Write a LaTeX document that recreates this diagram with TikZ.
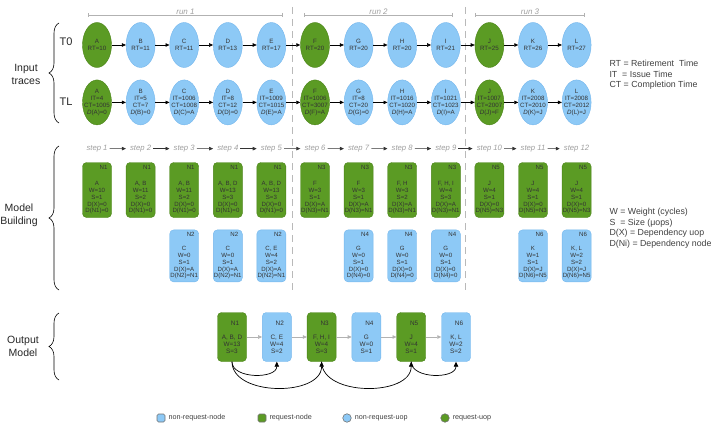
\documentclass[tikz,border=0pt]{standalone}
\usepackage{fontspec}
\setmainfont{Liberation Sans}
\usepackage{xcolor}
\usetikzlibrary{arrows.meta,positioning,shapes.geometric,decorations.pathreplacing}

\definecolor{reqgreen}{HTML}{5B9B24}
\definecolor{reqgreenline}{HTML}{4A8318}
\definecolor{uopblue}{HTML}{8DC9F6}
\definecolor{uopblueline}{HTML}{74B6EC}

\begin{document}
\begin{tikzpicture}[
x=1pt, y=1pt,
node distance=12pt and 14.2pt,
uop/.style={ellipse, draw=uopblueline, fill=uopblue, minimum width=29pt, minimum height=45pt, inner xsep=-3pt, inner ysep=1pt, align=center, text=black!80, font=\fontsize{6.2}{7}\selectfont},
requop/.style={uop, draw=reqgreenline, fill=reqgreen},
blockb/.style={draw=uopblueline, fill=uopblue, rounded corners=4pt, align=center, minimum width=29pt, minimum height=52pt, inner xsep=0.2pt, inner ysep=1pt, text=black!80, font=\fontsize{6.1}{6.8}\selectfont},
blockg/.style={blockb, draw=reqgreenline, fill=reqgreen, minimum height=55pt},
outb/.style={blockb, minimum height=49pt, font=\fontsize{6.4}{7}\selectfont},
outg/.style={outb, draw=reqgreenline, fill=reqgreen},
line/.style={-{Triangle[length=4pt, width=3.5pt]}, line width=0.6pt},
flow/.style={-{Triangle[length=4pt, width=3.5pt]}, line width=0.6pt, gray!60},
dep/.style={-{Triangle[length=5pt, width=4.5pt]}, line width=0.7pt},
steplbl/.style={text=gray!75, font=\fontsize{7.7}{9}\selectfont\itshape, inner sep=1pt},
steparrow/.style={-{Triangle[length=4pt, width=3.5pt]}, line width=0.6pt, black!80, shorten <=1pt, shorten >=3pt},
runlbl/.style={text=gray!75, font=\fontsize{8}{9}\selectfont\itshape, inner sep=0.5pt, above},
runline/.style={{Bar[width=4pt]}-{Bar[width=4pt]}, gray!60, line width=0.6pt},
sepline/.style={gray!55, line width=0.8pt, dash pattern=on 7pt off 5pt},
brace/.style={decorate, decoration={brace, amplitude=10pt}, line width=0.6pt},
side/.style={align=center, font=\fontsize{10.5}{13}\selectfont, text=black!85},
trace/.style={font=\fontsize{11}{13}\selectfont, text=black!85},
key/.style={align=left, anchor=west, font=\fontsize{8.8}{10.5}\selectfont, text=black!75},
lgsq/.style={draw=black!55, line width=0.6pt, rounded corners=1.5pt, minimum size=8pt, inner sep=0pt},
lgdot/.style={circle, draw=black!55, line width=0.6pt, minimum size=8.5pt, inner sep=0pt},
lgtext/.style={font=\fontsize{7.2}{8}\selectfont, text=black!75, inner sep=1pt}
]
\useasboundingbox (0,0) rectangle (712,-425);

% --- Side labels and braces ---
\draw[brace] (59,-123) -- (59,-23);
\node[side] (inlbl) at (26,-74) {Input\\traces};
\node[trace] (t0lbl) at (66,-42) {T0};
\node[trace] (tllbl) at (66,-102) {TL};

\draw[brace] (59,-290) -- (59,-146);
\node[side] (mblbl) at (19,-215) {Model\\Building};

\draw[brace] (59,-380) -- (59,-313);
\node[side] (omlbl) at (23,-346) {Output\\Model};

% --- Runs ---
\coordinate (run1s) at (88,-15);
\coordinate (run1e) at (283,-15);
\coordinate (run2s) at (304,-15);
\coordinate (run2e) at (453,-15);
\coordinate (run3s) at (475,-15);
\coordinate (run3e) at (585,-15);
\draw[runline] (run1s) -- node[runlbl] (run1) {run 1} (run1e);
\draw[runline] (run2s) -- node[runlbl] (run2) {run 2} (run2e);
\draw[runline] (run3s) -- node[runlbl] (run3) {run 3} (run3e);

\coordinate (sep1a) at (292,-7);
\coordinate (sep1b) at (292,-292);
\coordinate (sep2a) at (465,-7);
\coordinate (sep2b) at (465,-292);
\draw[sepline] (sep1a) -- (sep1b);
\draw[sepline] (sep2a) -- (sep2b);

% --- Input trace T0 ---
\node[requop] (A0) at (97,-45) {A\\RT=10};
\node[uop, right=of A0] (B0) {B\\RT=11};
\node[uop, right=of B0] (C0) {C\\RT=11};
\node[uop, right=of C0] (D0) {D\\RT=13};
\node[uop, right=of D0] (E0) {E\\RT=17};
\node[requop, right=of E0] (F0) {F\\RT=20};
\node[uop, right=of F0] (G0) {G\\RT=20};
\node[uop, right=of G0] (H0) {H\\RT=20};
\node[uop, right=of H0] (I0) {I\\RT=21};
\node[requop, right=of I0] (J0) {J\\RT=25};
\node[uop, right=of J0] (K0) {K\\RT=26};
\node[uop, right=of K0] (L0) {L\\RT=27};

% --- Input trace TL ---
\node[requop, below=of A0] (AL) {A\\IT=4\\CT=1005\\\textit{D}(A)=0};
\node[uop, right=of AL] (BL) {B\\IT=5\\CT=7\\\textit{D}(B)=0};
\node[uop, right=of BL] (CL) {C\\IT=1006\\CT=1008\\\textit{D}(C)=A};
\node[uop, right=of CL] (DL) {D\\IT=8\\CT=12\\\textit{D}(D)=0};
\node[uop, right=of DL] (EL) {E\\IT=1009\\CT=1015\\\textit{D}(E)=A};
\node[requop, right=of EL] (FL) {F\\IT=1006\\CT=3007\\\textit{D}(F)=A};
\node[uop, right=of FL] (GL) {G\\IT=8\\CT=20\\\textit{D}(G)=0};
\node[uop, right=of GL] (HL) {H\\IT=1016\\CT=1020\\\textit{D}(H)=A};
\node[uop, right=of HL] (IL) {I\\IT=1021\\CT=1023\\\textit{D}(I)=A};
\node[requop, right=of IL] (JL) {J\\IT=1007\\CT=2007\\\textit{D}(J)=F};
\node[uop, right=of JL] (KL) {K\\IT=2008\\CT=2010\\\textit{D}(K)=J};
\node[uop, right=of KL] (LL) {L\\IT=2008\\CT=2012\\\textit{D}(L)=J};

% --- Model building: request nodes ---
\node[blockg] (m1) at (97,-190) {\hspace*{13pt}N1\\[9pt]A\\W=10\\S=1\\D(X)=0\\D(N1)=0};
\node[blockg, right=of m1] (m2) {\hspace*{13pt}N1\\[9pt]A, B\\W=11\\S=2\\D(X)=0\\D(N1)=0};
\node[blockg, right=of m2] (m3) {\hspace*{13pt}N1\\[9pt]A, B\\W=11\\S=2\\D(X)=0\\D(N1)=0};
\node[blockg, right=of m3] (m4) {\hspace*{13pt}N1\\[9pt]A, B, D\\W=13\\S=3\\D(X)=0\\D(N1)=0};
\node[blockg, right=of m4] (m5) {\hspace*{13pt}N1\\[9pt]A, B, D\\W=13\\S=3\\D(X)=0\\D(N1)=0};
\node[blockg, right=of m5] (m6) {\hspace*{13pt}N3\\[9pt]F\\W=3\\S=1\\D(X)=A\\D(N3)=N1};
\node[blockg, right=of m6] (m7) {\hspace*{13pt}N3\\[9pt]F\\W=3\\S=1\\D(X)=A\\D(N3)=N1};
\node[blockg, right=of m7] (m8) {\hspace*{13pt}N3\\[9pt]F, H\\W=3\\S=2\\D(X)=A\\D(N3)=N1};
\node[blockg, right=of m8] (m9) {\hspace*{13pt}N3\\[9pt]F, H, I\\W=4\\S=3\\D(X)=A\\D(N3)=N1};
\node[blockg, right=of m9] (m10) {\hspace*{13pt}N5\\[9pt]J\\W=4\\S=1\\D(X)=0\\D(N5)=N3};
\node[blockg, right=of m10] (m11) {\hspace*{13pt}N5\\[9pt]J\\W=4\\S=1\\D(X)=0\\D(N5)=N3};
\node[blockg, right=of m11] (m12) {\hspace*{13pt}N5\\[9pt]J\\W=4\\S=1\\D(X)=0\\D(N5)=N3};

% --- Model building: non-request nodes ---
\node[blockb, below=of m3] (m3b) {\hspace*{13pt}N2\\[7pt]C\\W=0\\S=1\\D(X)=A\\D(N2)=N1};
\node[blockb, below=of m4] (m4b) {\hspace*{13pt}N2\\[7pt]C\\W=0\\S=1\\D(X)=A\\D(N2)=N1};
\node[blockb, below=of m5] (m5b) {\hspace*{13pt}N2\\[7pt]C, E\\W=4\\S=2\\D(X)=A\\D(N2)=N1};
\node[blockb, below=of m7] (m7b) {\hspace*{13pt}N4\\[7pt]G\\W=0\\S=1\\D(X)=0\\D(N4)=0};
\node[blockb, below=of m8] (m8b) {\hspace*{13pt}N4\\[7pt]G\\W=0\\S=1\\D(X)=0\\D(N4)=0};
\node[blockb, below=of m9] (m9b) {\hspace*{13pt}N4\\[7pt]G\\W=0\\S=1\\D(X)=0\\D(N4)=0};
\node[blockb, below=of m11] (m11b) {\hspace*{13pt}N6\\[7pt]K\\W=1\\S=1\\D(X)=J\\D(N6)=N5};
\node[blockb, below=of m12] (m12b) {\hspace*{13pt}N6\\[7pt]K, L\\W=2\\S=2\\D(X)=J\\D(N6)=N5};

% --- Steps ---
\node[steplbl, above=9pt of m1] (s1) {step 1};
\node[steplbl, above=9pt of m2] (s2) {step 2};
\node[steplbl, above=9pt of m3] (s3) {step 3};
\node[steplbl, above=9pt of m4] (s4) {step 4};
\node[steplbl, above=9pt of m5] (s5) {step 5};
\node[steplbl, above=9pt of m6] (s6) {step 6};
\node[steplbl, above=9pt of m7] (s7) {step 7};
\node[steplbl, above=9pt of m8] (s8) {step 8};
\node[steplbl, above=9pt of m9] (s9) {step 9};
\node[steplbl, above=9pt of m10] (s10) {step 10};
\node[steplbl, above=9pt of m11] (s11) {step 11};
\node[steplbl, above=9pt of m12] (s12) {step 12};

% --- Output model ---
\node[outg] (o1) at (232,-337) {\hspace*{6pt}N1\\[7pt]A, B, D\\W=13\\S=3};
\node[outb, right=15.4pt of o1] (o2) {\hspace*{6pt}N2\\[7pt]C, E\\W=4\\S=2};
\node[outg, right=15.4pt of o2] (o3) {\hspace*{6pt}N3\\[7pt]F, H, I\\W=4\\S=3};
\node[outb, right=15.4pt of o3] (o4) {\hspace*{6pt}N4\\[7pt]G\\W=0\\S=1};
\node[outg, right=15.4pt of o4] (o5) {\hspace*{6pt}N5\\[7pt]J\\W=4\\S=1};
\node[outb, right=15.4pt of o5] (o6) {\hspace*{6pt}N6\\[7pt]K, L\\W=2\\S=2};

% --- Keys ---
\node[key] (rtkey) at (606,-75) {RT = Retirement\ \ Time\\IT\ \ = Issue Time\\CT = Completion Time};
\node[key] (wkey) at (606,-228) {W = Weight (cycles)\\S\ \ = Size (μops)\\D(X) = Dependency uop\\D(Ni) = Dependency node};

% --- Legend ---
\node[lgsq, fill=uopblue] (lg1) at (161,-418) {};
\node[lgtext, right=2pt of lg1] (lgt1) {non-request-node};
\node[lgsq, fill=reqgreen] (lg2) at (262,-418) {};
\node[lgtext, right=2pt of lg2] (lgt2) {request-node};
\node[lgdot, fill=uopblue] (lg3) at (347,-418) {};
\node[lgtext, right=2pt of lg3] (lgt3) {non-request-uop};
\node[lgdot, fill=reqgreen] (lg4) at (445,-418) {};
\node[lgtext, right=2pt of lg4] (lgt4) {request-uop};

% --- Connections ---
\draw[line] (A0) -- (B0);
\draw[line] (B0) -- (C0);
\draw[line] (C0) -- (D0);
\draw[line] (D0) -- (E0);
\draw[line] (E0) -- (F0);
\draw[line] (F0) -- (G0);
\draw[line] (G0) -- (H0);
\draw[line] (H0) -- (I0);
\draw[line] (I0) -- (J0);
\draw[line] (J0) -- (K0);
\draw[line] (K0) -- (L0);

\draw[line] (AL) -- (BL);
\draw[line] (BL) -- (CL);
\draw[line] (CL) -- (DL);
\draw[line] (DL) -- (EL);
\draw[line] (EL) -- (FL);
\draw[line] (FL) -- (GL);
\draw[line] (GL) -- (HL);
\draw[line] (HL) -- (IL);
\draw[line] (IL) -- (JL);
\draw[line] (JL) -- (KL);
\draw[line] (KL) -- (LL);

\draw[steparrow] (s1) -- (s2);
\draw[steparrow] (s2) -- (s3);
\draw[steparrow] (s3) -- (s4);
\draw[steparrow] (s4) -- (s5);
\draw[steparrow] (s5) -- (s6);
\draw[steparrow] (s6) -- (s7);
\draw[steparrow] (s7) -- (s8);
\draw[steparrow] (s8) -- (s9);
\draw[steparrow] (s9) -- (s10);
\draw[steparrow] (s10) -- (s11);
\draw[steparrow] (s11) -- (s12);

\draw[flow] (o1) -- (o2);
\draw[flow] (o2) -- (o3);
\draw[flow] (o3) -- (o4);
\draw[flow] (o4) -- (o5);
\draw[flow] (o5) -- (o6);

\draw[dep] (o1.south) to[out=-90, in=-90] (o2.south);
\draw[dep] (o1.south) to[out=-90, in=-90] (o3.south);
\draw[dep] (o3.south) to[out=-90, in=-90] (o5.south);
\draw[dep] (o5.south) to[out=-90, in=-90] (o6.south);

\end{tikzpicture}
\end{document}
